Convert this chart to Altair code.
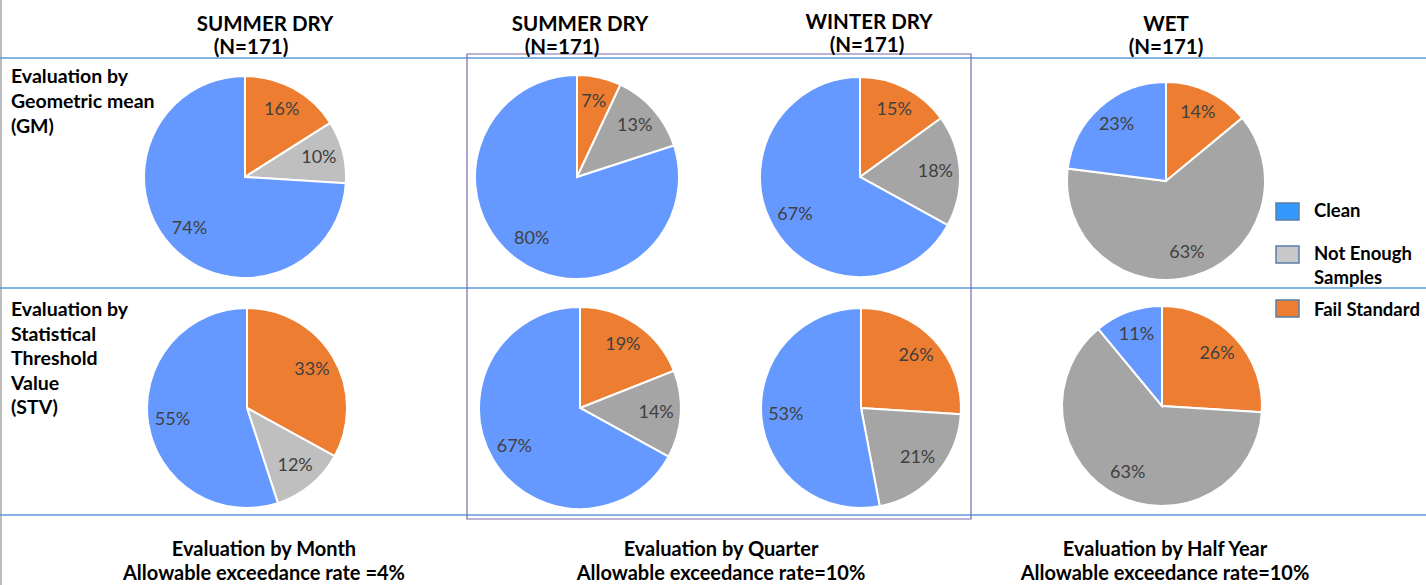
import altair as alt
import pandas as pd

# ---------------- data ----------------
categories = ["Fail Standard", "Not Enough Samples", "Clean"]
panels = ["month_gm", "quarter_summer_gm", "quarter_winter_gm", "halfyear_wet_gm",
          "month_stv", "quarter_summer_stv", "quarter_winter_stv", "halfyear_wet_stv"]
fail_pct = [16, 7, 15, 14, 33, 19, 26, 26]
not_enough_pct = [10, 13, 18, 63, 12, 14, 21, 63]
clean_pct = [74, 80, 67, 23, 55, 67, 53, 11]

season_titles = ["SUMMER DRY", "SUMMER DRY", "WINTER DRY", "WET"]
n_labels = ["(N=171)", "(N=171)", "(N=171)", "(N=171)"]
row_label_gm = ["Evaluation by", "Geometric mean", "(GM)"]
row_label_stv = ["Evaluation by", "Statistical", "Threshold", "Value", "(STV)"]
footer_titles = ["Evaluation by Month", "Evaluation by Quarter", "Evaluation by Half Year"]
footer_rates = ["Allowable exceedance rate =4%", "Allowable exceedance rate=10%",
                "Allowable exceedance rate=10%"]
legend_labels = [["Clean"], ["Not Enough", "Samples"], ["Fail Standard"]]

rows = []
for p, f, n, c in zip(panels, fail_pct, not_enough_pct, clean_pct):
    for i, (cat, v) in enumerate(zip(categories, [f, n, c])):
        rows.append({"panel": p, "cat": cat, "idx": i, "value": v})
df = pd.DataFrame(rows)

# ---------------- styles / layout ----------------
ORANGE = "#ED7D31"
GRAY = "#A5A5A5"
LIGHT_GRAY = "#BFBFBF"
BLUE = "#6699FF"
FONT = "Lato"

pie_layout = [  # cx, cy, r, light gray
    (245, 177, 101, True), (577, 177, 102, False), (860, 177, 100, False), (1166, 181, 99, False),
    (247, 408, 100, True), (580, 408, 101, False), (861, 408, 100, False), (1162, 406, 100, False),
]

one = pd.DataFrame({"k": [0]})
layers = []


def text_at(s, x, y, size, bold=True, align="center", color="black"):
    return alt.Chart(one).mark_text(
        text=s, font=FONT, fontSize=size, fontWeight="bold" if bold else "normal",
        align=align, baseline="alphabetic", color=color
    ).encode(x=alt.value(x), y=alt.value(y))


def rule(x1, x2, y1, y2, color, w):
    return alt.Chart(one).mark_rule(color=color, strokeWidth=w).encode(
        x=alt.value(x1), x2=alt.value(x2), y=alt.value(y1), y2=alt.value(y2))


# frame lines
layers.append(rule(1, 1, 0, 585, "#A6A6A6", 1.5))
for yy in [58, 288, 515]:
    layers.append(rule(0, 1426, yy, yy, "#5B9BD5", 1.5))
layers.append(alt.Chart(one).mark_rect(fillOpacity=0, stroke="#7B68A8", strokeWidth=1.2).encode(
    x=alt.value(467), x2=alt.value(971), y=alt.value(54), y2=alt.value(519)))

# pies
for panel, (cx, cy, r, light) in zip(panels, pie_layout):
    base = alt.Chart(df).transform_filter(alt.datum.panel == panel).transform_calculate(
        label=alt.expr.toString(alt.datum.value) + "%")
    color = alt.Color("cat:N", scale=alt.Scale(domain=categories, range=[ORANGE, GRAY, BLUE]),
                      legend=None)
    if light:
        color = alt.condition(alt.datum.cat == "Not Enough Samples", alt.value(LIGHT_GRAY), color)
    arc = base.mark_arc(radius=r, stroke="white", strokeWidth=2).encode(
        x=alt.value(cx), y=alt.value(cy),
        theta=alt.Theta("value:Q", stack=True), color=color, order=alt.Order("idx:Q"))
    lab = base.mark_text(radius=r * 0.755, font=FONT, fontSize=18, color="#404040",
                         baseline="middle", align="center").encode(
        x=alt.value(cx), y=alt.value(cy),
        theta=alt.Theta("value:Q", stack=True), order=alt.Order("idx:Q"), text="label:N")
    layers += [arc, lab]

# column titles
title_pos = [(265, 31, 251, 54), (580, 31, 562, 54), (869, 29, 867, 52), (1166, 31, 1166, 54)]
for t, n, (tx, ty, nx, ny) in zip(season_titles, n_labels, title_pos):
    layers.append(text_at(t, tx, ty, 20.5))
    layers.append(text_at(n, nx, ny, 20.5))

# row labels
for i, s in enumerate(row_label_gm):
    layers.append(text_at(s, 11, 83 + 25 * i, 19.5, align="left"))
for i, s in enumerate(row_label_stv):
    layers.append(text_at(s, 11, 316 + 24.5 * i, 19.5, align="left"))

# legend
legend_fill = ["#3399FF", "#C8C8C8", ORANGE]
legend_y = [203, 246, 300]
legend_text_y = [217, 260, 316]
for lab_lines, fill, y0, ty in zip(legend_labels, legend_fill, legend_y, legend_text_y):
    layers.append(alt.Chart(one).mark_rect(fill=fill, stroke="#5A7FA8", strokeWidth=1.5).encode(
        x=alt.value(1276), x2=alt.value(1299), y=alt.value(y0), y2=alt.value(y0 + 17)))
    for j, s in enumerate(lab_lines):
        layers.append(text_at(s, 1314, ty + 24 * j, 18.5, align="left"))

# footer
footer_x = [264, 721, 1165]
for t, rtxt, fx in zip(footer_titles, footer_rates, footer_x):
    layers.append(text_at(t, fx, 556, 20))
    layers.append(text_at(rtxt, fx, 580, 20))

chart = alt.layer(*layers).properties(
    width=1426, height=585, padding=0, autosize=alt.AutoSizeParams(type="none"),
    background="white"
).configure_view(stroke=None)

chart.save("out.html", embed_options={"renderer": "svg", "actions": False})
